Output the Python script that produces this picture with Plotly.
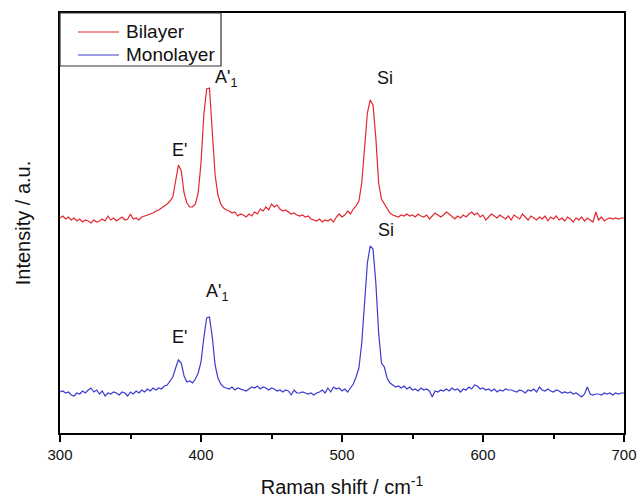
import plotly.graph_objects as go

raman_shift = list(range(300, 701, 2))

bilayer = [
    215, 217, 214, 216, 213, 215, 212, 214, 211, 213,   # 300-318
    212, 210, 213, 211, 212, 214, 212, 217, 213, 215,   # 320-338
    212, 214, 216, 213, 214, 219, 214, 215, 213, 216,   # 340-358
    217, 218, 219, 220, 222, 223, 225, 227, 229, 232,   # 360-378
    236, 252, 268, 262, 240, 230, 226, 226, 229, 240,   # 380-398
    270, 318, 344, 345, 305, 258, 238, 229, 225, 223,   # 400-418
    222, 220, 221, 217, 219, 218, 216, 219, 217, 221,   # 420-438
    219, 224, 222, 226, 223, 229, 226, 228, 224, 222,   # 440-458
    223, 221, 219, 220, 218, 217, 218, 216, 217, 214,   # 460-478
    213, 212, 214, 211, 213, 212, 214, 211, 216, 219,   # 480-498
    216, 218, 222, 219, 224, 227, 232, 250, 285, 320,   # 500-518
    333, 328, 295, 250, 234, 229, 224, 220, 218, 217,   # 520-538
    216, 218, 217, 219, 217, 218, 216, 219, 217, 216,   # 540-558
    218, 214, 217, 220, 218, 216, 218, 221, 219, 216,   # 560-578
    214, 217, 215, 218, 216, 219, 221, 218, 220, 216,   # 580-598
    218, 213, 216, 219, 217, 215, 218, 216, 214, 217,   # 600-618
    213, 218, 216, 214, 219, 216, 213, 217, 215, 213,   # 620-638
    216, 214, 217, 212, 216, 214, 217, 213, 215, 212,   # 640-658
    216, 214, 211, 215, 213, 216, 212, 215, 213, 211,   # 660-678
    221, 213, 216, 212, 214, 215, 214, 215, 214, 215,   # 680-698
    215,                                                # 700
]

monolayer = [
    41, 42, 40, 41, 38, 37, 40, 39, 42, 40,    # 300-318
    43, 45, 41, 43, 39, 42, 37, 40, 39, 41,    # 320-338
    40, 38, 41, 40, 37, 41, 39, 42, 40, 43,    # 340-358
    41, 44, 42, 45, 43, 45, 44, 47, 48, 52,    # 360-378
    56, 65, 73, 70, 57, 51, 52, 50, 54, 60,    # 380-398
    71, 95, 115, 116, 96, 68, 55, 49, 46, 45,  # 400-418
    44, 46, 43, 45, 44, 43, 42, 44, 46, 45,    # 420-438
    47, 44, 46, 45, 43, 45, 44, 42, 43, 41,    # 440-458
    43, 42, 38, 43, 40, 40, 41, 40, 39, 40,    # 460-478
    38, 40, 41, 43, 40, 45, 41, 46, 44, 45,    # 480-498
    42, 44, 41, 45, 49, 56, 65, 90, 130, 170,  # 500-518
    187, 184, 150, 100, 70, 66, 55, 50, 48, 46,  # 520-538
    47, 45, 47, 44, 46, 43, 44, 42, 45, 43,    # 540-558
    44, 42, 36, 42, 41, 43, 42, 44, 42, 45,    # 560-578
    43, 44, 41, 44, 43, 46, 44, 48, 47, 44,    # 580-598
    45, 43, 44, 42, 44, 41, 43, 42, 44, 43,    # 600-618
    43, 42, 41, 43, 42, 40, 43, 42, 44, 41,    # 620-638
    46, 43, 42, 44, 42, 41, 43, 42, 40, 41,    # 640-658
    40, 41, 39, 40, 38, 36, 39, 46, 39, 38,    # 660-678
    39, 39, 38, 40, 39, 40, 38, 40, 39, 40,    # 680-698
    40,                                        # 700
]

x_ticks = [300, 400, 500, 600, 700]
series_names = ["Bilayer", "Monolayer"]
series_colors = ["#e3262f", "#3a3ad0"]

# peak labels: (text, x, y)
labels = [
    ("E'", 385, 283),
    ("A'<sub>1</sub>", 418, 355),
    ("Si", 530.5, 355),
    ("E'", 385, 96),
    ("A'<sub>1</sub>", 411, 141),
    ("Si", 531, 203),
]

FONT = "Liberation Sans, Arial, sans-serif"

ML, MR, MT, MB = 60, 16, 13, 67
W, H = 640, 500
PW, PH = float(W - ML - MR), float(H - MT - MB)

fig = go.Figure()
for name, ys, col in zip(series_names, [bilayer, monolayer], series_colors):
    fig.add_trace(go.Scatter(x=raman_shift, y=ys, mode="lines", name=name,
                             line=dict(color=col, width=1.2), showlegend=False))

for text, lx, ly in labels:
    fig.add_annotation(x=lx, y=ly, text=text, showarrow=False,
                       font=dict(family=FONT, size=18, color="#111111"),
                       xanchor="center", yanchor="middle")

# legend box drawn in paper coordinates
def px_x(p):
    return p / PW
def px_y(p):
    return 1 - p / PH

fig.add_shape(type="rect", xref="paper", yref="paper",
              x0=0, x1=px_x(161), y0=px_y(53), y1=1,
              line=dict(color="#333333", width=1.2), fillcolor="white", layer="above")
for i, (name, col) in enumerate(zip(series_names, series_colors)):
    yy = px_y(19 + 23 * i)
    fig.add_shape(type="line", xref="paper", yref="paper",
                  x0=px_x(18), x1=px_x(59), y0=yy, y1=yy,
                  line=dict(color=col, width=1.2), layer="above")
    fig.add_annotation(xref="paper", yref="paper", x=px_x(64), y=yy, text=name,
                       showarrow=False, xanchor="left", yanchor="middle",
                       font=dict(family=FONT, size=19, color="#111111"))

fig.update_layout(
    width=W, height=H,
    margin=dict(l=ML, r=MR, t=MT, b=MB, autoexpand=False),
    paper_bgcolor="white", plot_bgcolor="white",
    font=dict(family=FONT, color="#111111"),
    showlegend=False,
    xaxis=dict(range=[300, 700], tickvals=x_ticks, ticks="outside", ticklen=7,
               tickwidth=1.5, tickcolor="black", showline=True, linewidth=2,
               linecolor="black", mirror=True, showgrid=False, zeroline=False,
               automargin=False,
               tickfont=dict(family=FONT, size=15, color="#111111"),
               minor=dict(dtick=50, tick0=300, ticks="outside", ticklen=4,
                          tickwidth=1.5, tickcolor="black", showgrid=False),
               title=dict(text="Raman shift / cm<sup>-1</sup>", standoff=18,
                          font=dict(family=FONT, size=20, color="#111111"))),
    yaxis=dict(range=[0, 420], showticklabels=False, ticks="", showline=True,
               linewidth=2, linecolor="black", mirror=True, showgrid=False,
               zeroline=False, automargin=False,
               title=dict(text="Intensity / a.u.", standoff=22,
                          font=dict(family=FONT, size=20, color="#111111"))),
)

fig.write_html("out.html", post_script="document.body.style.margin='0';")
